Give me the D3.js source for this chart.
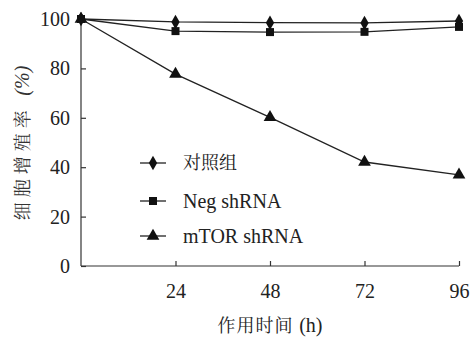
<!DOCTYPE html>
<html>
<head>
<meta charset="utf-8">
<script src="https://cdn.jsdelivr.net/npm/d3@7"></script>
<style>
body { margin: 0; background: #fff; }
svg { display: block; }
</style>
</head>
<body>
<svg id="chart" width="470" height="338"></svg>
<script>
// hours after treatment
var hours = [0, 24, 48, 72, 96];
var seriesNames = ["对照组", "Neg shRNA", "mTOR shRNA"];
var controlVals = [100, 98.8, 98.5, 98.4, 99.2];
var negVals = [100, 95.1, 94.7, 94.8, 96.8];
var mtorVals = [100, 77.7, 60.2, 42.1, 36.9];
var xTicks = [24, 48, 72, 96];
var yTicks = [0, 20, 40, 60, 80, 100];

var margin = { top: 19, right: 11, bottom: 72, left: 81 };
var width = 470, height = 338;

var SERIF = "Liberation Serif";
var CJK = "Noto Serif CJK SC";

var svg = d3.select("#chart");

var x = d3.scaleLinear()
    .domain([0, 96])
    .range([margin.left, width - margin.right]);

var y = d3.scaleLinear()
    .domain([0, 100])
    .range([height - margin.bottom, margin.top]);

// y axis, ticks pointing inward
svg.append("g")
    .attr("transform", `translate(${margin.left},0)`)
    .call(d3.axisRight(y).tickValues(yTicks).tickSize(5).tickFormat(d3.format("d")))
    .call(g => g.select(".domain").attr("d", `M0,${y(100)}V${y(0)}`))
    .call(g => g.selectAll("text")
        .attr("x", -11)
        .attr("text-anchor", "end")
        .attr("font-family", SERIF)
        .attr("font-size", 20)
        .attr("fill", "#222"));

// x axis, ticks pointing up
svg.append("g")
    .attr("transform", `translate(0,${y(0)})`)
    .call(d3.axisTop(x).tickValues(xTicks).tickSize(5))
    .call(g => g.select(".domain").attr("d", `M${x(0)},0H${x(96)}`))
    .call(g => g.selectAll("text")
        .attr("y", 25)
        .attr("dy", "0.35em")
        .attr("font-family", SERIF)
        .attr("font-size", 20)
        .attr("fill", "#222"));

svg.selectAll(".domain, .tick line").attr("stroke", "#333").attr("stroke-width", 1.2);

// axis titles
svg.append("text")
    .attr("x", 270)
    .attr("y", 332)
    .attr("text-anchor", "middle")
    .attr("fill", "#222")
    .call(t => t.append("tspan").attr("font-family", CJK).attr("font-size", 18).attr("letter-spacing", 1).text("作用时间 "))
    .call(t => t.append("tspan").attr("font-family", SERIF).attr("font-size", 20).text("(h)"));

svg.append("text")
    .attr("transform", "translate(29,143) rotate(-90)")
    .attr("text-anchor", "middle")
    .attr("fill", "#333")
    .call(t => t.append("tspan").attr("font-family", CJK).attr("font-size", 18).attr("letter-spacing", 5).text("细胞增殖率 "))
    .call(t => t.append("tspan").attr("font-family", SERIF).attr("font-style", "italic").attr("font-size", 20).text("(%)"));

var line = d3.line()
    .x((d, i) => x(hours[i]))
    .y(d => y(d));

var allSeries = [controlVals, negVals, mtorVals];
var symbols = [d3.symbolDiamond, d3.symbolSquare, d3.symbolTriangle];
var sizes = [60, 64, 70];

allSeries.forEach(function (vals, k) {
    svg.append("path")
        .datum(vals)
        .attr("fill", "none")
        .attr("stroke", "#222")
        .attr("stroke-width", 1.3)
        .attr("d", line);

    svg.append("g")
        .selectAll("path")
        .data(vals)
        .join("path")
        .attr("transform", (d, i) => `translate(${x(hours[i])},${y(d)})`)
        .attr("fill", "#111")
        .attr("d", d3.symbol().type(symbols[k]).size(sizes[k]));
});

// legend
var legendY = [163, 201, 236];
var legend = svg.append("g");
seriesNames.forEach(function (name, k) {
    var g = legend.append("g").attr("transform", `translate(153,${legendY[k]})`);
    g.append("line")
        .attr("x1", -13).attr("x2", 13)
        .attr("stroke", "#222").attr("stroke-width", 1.3);
    g.append("path")
        .attr("fill", "#111")
        .attr("d", d3.symbol().type(symbols[k]).size(sizes[k]));
    g.append("text")
        .attr("x", 30)
        .attr("dy", "0.35em")
        .attr("font-family", k === 0 ? CJK : SERIF)
        .attr("font-size", k === 0 ? 18 : 20)
        .attr("fill", "#222")
        .text(name);
});
</script>
</body>
</html>
